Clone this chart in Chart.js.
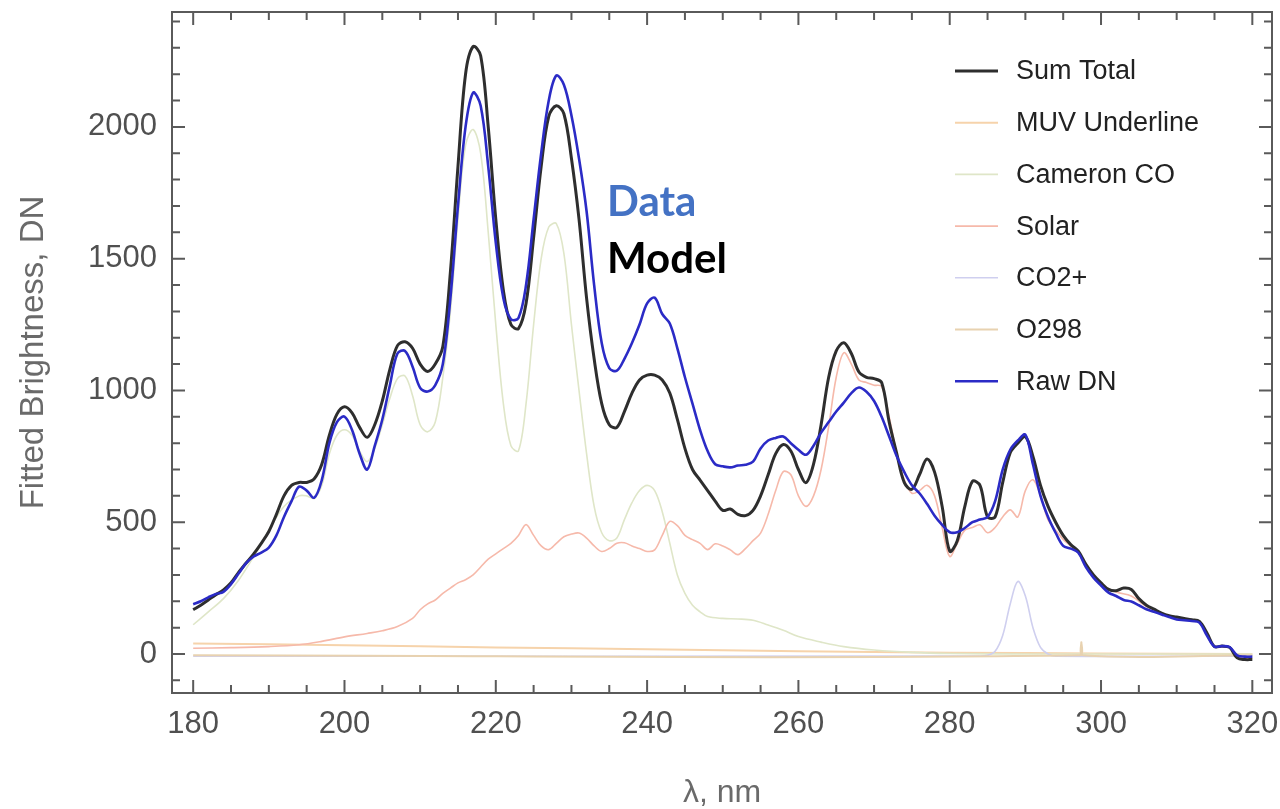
<!DOCTYPE html>
<html>
<head>
<meta charset="utf-8">
<script src="https://cdn.jsdelivr.net/npm/chart.js@4.4.1/dist/chart.umd.min.js"></script>
<style>
  html, body { margin: 0; padding: 0; background: #fff; }
  #wrap { position: relative; width: 1280px; height: 809px; }
</style>
</head>
<body>
<div id="wrap"><canvas id="chart" width="1280" height="809"></canvas></div>
<script>
// wavelength grid (nm) shared by the model total and the raw data
const wavelengths = [
  180, 181, 182, 183, 184, 185, 186, 187, 188, 189, 190, 191, 192, 193, 194, 195, 196, 197, 198, 199,
  200, 201, 202, 203, 204, 205, 206, 207, 208, 209, 210, 211, 212, 213, 214, 215, 216, 217, 218, 219,
  220, 221, 222, 223, 224, 225, 226, 227, 228, 229, 230, 231, 232, 233, 234, 235, 236, 237, 238, 239,
  240, 241, 242, 243, 244, 245, 246, 247, 248, 249, 250, 251, 252, 253, 254, 255, 256, 257, 258, 259,
  260, 261, 262, 263, 264, 265, 266, 267, 268, 269, 270, 271, 272, 273, 274, 275, 276, 277, 278, 279,
  280, 281, 282, 283, 284, 285, 286, 287, 288, 289, 290, 291, 292, 293, 294, 295, 296, 297, 298, 299,
  300, 301, 302, 303, 304, 305, 306, 307, 308, 309, 310, 311, 312, 313, 314, 315, 316, 317, 318, 319,
  320
];

const sumTotal = [
  168, 185, 205, 225, 243, 270, 310, 345, 380, 420, 465, 530, 600, 640, 651, 651, 665, 720, 830, 910,
  938, 915, 860, 822, 870, 960, 1080, 1170, 1185, 1160, 1100, 1072, 1100, 1167, 1450, 1850, 2200, 2305, 2270, 2000,
  1650, 1380, 1250, 1235, 1330, 1580, 1850, 2040, 2080, 2050, 1880, 1650, 1350, 1120, 950, 870, 860, 920, 990, 1040,
  1058, 1058, 1040, 990, 890, 780, 700, 660, 620, 580, 545, 550, 530, 525, 545, 600, 680, 760, 795, 770,
  700, 650, 720, 870, 1050, 1150, 1181, 1140, 1070, 1050, 1045, 1030, 880, 760, 650, 625, 680, 740, 690, 560,
  390, 430, 560, 655, 640, 520, 520, 650, 764, 800, 825, 750, 640, 560, 500, 450, 415, 390, 340, 300,
  270, 245, 240, 250, 245, 210, 185, 170, 155, 145, 140, 135, 130, 124, 80, 28, 30, 25, -15, -21,
  -21
];

const rawDN = [
  189, 200, 215, 228, 236, 265, 305, 345, 370, 385, 404, 450, 520, 580, 635, 620, 593, 660, 800, 880,
  901, 850, 760, 700, 790, 890, 1020, 1140, 1150, 1090, 1010, 996, 1020, 1100, 1350, 1700, 2000, 2130, 2080, 1850,
  1560, 1350, 1270, 1275, 1400, 1650, 1900, 2100, 2195, 2160, 2043, 1880, 1680, 1400, 1180, 1085, 1075, 1120, 1180, 1250,
  1330, 1352, 1290, 1254, 1160, 1050, 950, 850, 770, 720, 712, 708, 715, 718, 730, 780, 810, 820, 825, 800,
  775, 756, 790, 840, 880, 920, 954, 990, 1011, 995, 960, 900, 825, 750, 690, 640, 610, 570, 525, 490,
  462, 462, 478, 500, 510, 520, 580, 700, 775, 810, 832, 720, 600, 520, 460, 410, 400, 384, 330, 290,
  260, 233, 220, 205, 199, 185, 170, 160, 150, 140, 131, 128, 125, 119, 70, 28, 30, 26, -5, -10,
  -10
];

const cameronNm = [
  180, 182, 184, 186, 188, 190, 192, 194, 195, 196, 197, 198, 199, 200, 201, 202, 203, 204, 205, 206,
  207, 208, 209, 210, 211, 212, 213, 214, 215, 216, 217, 218, 219, 220, 221, 222, 223, 224, 225, 226,
  227, 228, 229, 230, 231, 232, 233, 234, 235, 236, 237, 238, 239, 240, 241, 242, 243, 244, 245, 246,
  247, 248, 250, 252, 254, 256, 258, 260, 263, 266, 270, 275, 280, 290, 320
];
const cameronCO = [
  111, 160, 210, 280, 370, 470, 560, 600, 600, 590, 640, 760, 830, 851, 830, 770, 730, 780, 870, 970,
  1045, 1055, 980, 870, 843, 880, 1050, 1300, 1650, 1930, 1990, 1900, 1600, 1250, 950, 790, 771, 950, 1250, 1500,
  1620, 1633, 1520, 1250, 1000, 760, 560, 460, 430, 440, 510, 574, 620, 640, 620, 540, 420, 300, 230, 185,
  160, 142, 135, 133, 128, 110, 90, 66, 45, 28, 15, 6, 2, 0, 0
];

const solarNm = [
  180, 185, 190, 194, 197, 200, 203, 205, 207, 209, 210, 211, 212, 213, 214, 215, 216, 217, 218, 219,
  220, 221, 222, 223, 224, 225, 226, 227, 228, 229, 230, 231, 232, 233, 234, 235, 236, 237, 238, 239,
  240, 241, 242, 243, 244, 245, 246, 247, 248, 249, 250, 251, 252, 253, 254, 255, 256, 257, 258, 259,
  260, 261, 262, 263, 264, 265, 266, 267, 268, 269, 270, 271, 272, 273, 274, 275, 276, 277, 278, 279,
  280, 281, 282, 283, 284, 285, 286, 287, 288, 289, 290, 291, 292, 293, 294, 295, 296, 297, 298, 299,
  300, 302, 304, 306, 308, 310, 312, 313, 314, 315, 317, 318, 320
];
const solar = [
  22, 24, 28, 35, 48, 65, 78, 88, 104, 135, 168, 190, 205, 230, 250, 270, 282, 300, 330, 360,
  380, 400, 420, 450, 491, 450, 410, 396, 420, 445, 455, 459, 440, 410, 389, 400, 420, 422, 410, 400,
  389, 395, 450, 503, 487, 450, 434, 420, 396, 418, 410, 395, 377, 400, 430, 459, 530, 620, 692, 680,
  600, 560, 600, 700, 863, 1050, 1143, 1100, 1040, 1030, 1020, 1015, 900, 760, 660, 610, 620, 640, 600, 480,
  370, 420, 470, 480, 490, 460, 480, 520, 547, 520, 620, 661, 600, 509, 470, 435, 410, 385, 335, 300,
  265, 235, 220, 180, 155, 135, 128, 120, 75, 30, 25, -10, -15
];

const muvNm = [180, 200, 220, 240, 260, 280, 300, 320];
const muvUnderline = [40, 33, 25, 18, 10, 5, 2, 0];

const co2Nm = [180, 284, 285, 286, 287, 288, 289, 290, 291, 292, 293, 294, 320];
const co2Plus = [-8, -8, -5, 10, 70, 190, 275, 220, 100, 25, 0, -8, -8];

const o298Nm = [180, 297.2, 297.4, 297.6, 320];
const o298 = [-5, -5, 45, -5, -5];

const xTickLabels = [180, 200, 220, 240, 260, 280, 300, 320];
const yTickLabels = [0, 500, 1000, 1500, 2000];

const FONT = "Arial, 'Liberation Sans', Helvetica, sans-serif";

function pts(xs, ys) {
  return xs.map((v, i) => ({ x: v, y: ys[i] }));
}

const series = [
  { label: "Sum Total", data: pts(wavelengths, sumTotal), color: "#2e2e2e", width: 3, order: 1 },
  { label: "MUV Underline", data: pts(muvNm, muvUnderline), color: "#f6d3ab", width: 2, order: 6 },
  { label: "Cameron CO", data: pts(cameronNm, cameronCO), color: "#dfe6c8", width: 1.6, order: 5 },
  { label: "Solar", data: pts(solarNm, solar), color: "#f6b9aa", width: 1.6, order: 4 },
  { label: "CO2+", data: pts(co2Nm, co2Plus), color: "#cfcfef", width: 1.6, order: 3 },
  { label: "O298", data: pts(o298Nm, o298), color: "#e8d2b0", width: 2, order: 2 },
  { label: "Raw DN", data: pts(wavelengths, rawDN), color: "#2b2bc6", width: 2.6, order: 0 },
];

// frame with inward ticks on all four sides, like the original plot
const frameTicks = {
  id: "frameTicks",
  afterDraw(chart) {
    const { ctx, chartArea: a, scales: { x, y } } = chart;
    ctx.save();
    ctx.strokeStyle = "#5a5a5a";
    ctx.lineWidth = 2;
    ctx.strokeRect(a.left, a.top, a.right - a.left, a.bottom - a.top);
    ctx.beginPath();
    for (let v = 180; v <= 320; v += 5) {
      const px = x.getPixelForValue(v);
      const len = v % 20 === 0 ? 13 : 8;
      ctx.moveTo(px, a.bottom); ctx.lineTo(px, a.bottom - len);
      ctx.moveTo(px, a.top); ctx.lineTo(px, a.top + len);
    }
    for (let v = -100; v <= 2400; v += 100) {
      const py = y.getPixelForValue(v);
      const len = v % 500 === 0 ? 13 : 8;
      ctx.moveTo(a.left, py); ctx.lineTo(a.left + len, py);
      ctx.moveTo(a.right, py); ctx.lineTo(a.right - len, py);
    }
    ctx.stroke();
    ctx.restore();
  }
};

// legend at the right, and the Data / Model note
const sideLegend = {
  id: "sideLegend",
  afterDraw(chart) {
    const { ctx } = chart;
    ctx.save();
    ctx.font = "27px " + FONT;
    ctx.textBaseline = "middle";
    chart.data.datasets.forEach((ds, i) => {
      const yy = 71 + i * 51.7;
      ctx.strokeStyle = ds.borderColor;
      ctx.lineWidth = ds.borderWidth;
      ctx.beginPath();
      ctx.moveTo(955, yy);
      ctx.lineTo(998, yy);
      ctx.stroke();
      ctx.fillStyle = "#222";
      ctx.fillText(ds.label, 1016, yy + 1);
    });
    ctx.font = "bold 42px Lato, 'Open Sans', sans-serif";
    ctx.textBaseline = "alphabetic";
    ctx.fillStyle = "#4472c4";
    ctx.fillText("Data", 607, 216);
    ctx.fillStyle = "#000";
    ctx.fillText("Model", 607, 273);
    ctx.restore();
  }
};

new Chart(document.getElementById("chart"), {
  type: "line",
  data: {
    datasets: series.map(s => ({
      label: s.label,
      data: s.data,
      borderColor: s.color,
      borderWidth: s.width,
      pointRadius: 0,
      tension: 0.35,
      fill: false,
      order: s.order,
    })),
  },
  options: {
    responsive: false,
    animation: false,
    layout: { padding: { top: 12, right: 8, left: 0, bottom: 0 } },
    plugins: { legend: { display: false }, tooltip: { enabled: false } },
    scales: {
      x: {
        type: "linear",
        min: 177.2,
        max: 322.6,
        afterBuildTicks: (scale) => { scale.ticks = xTickLabels.map(v => ({ value: v })); },
        afterFit: (scale) => { scale.height = 116; scale.paddingLeft = 0; scale.paddingRight = 0; },
        grid: { display: false, drawTicks: false },
        border: { display: false },
        ticks: {
          color: "#505050",
          padding: 13,
          maxRotation: 0,
          callback: (v) => String(v),
          font: { family: FONT, size: 31 },
        },
        title: {
          display: true,
          text: "λ, nm",
          color: "#6a6a6a",
          padding: 0,
          font: { family: FONT, size: 32, lineHeight: 1 },
        },
      },
      y: {
        type: "linear",
        min: -148,
        max: 2436,
        afterBuildTicks: (scale) => { scale.ticks = yTickLabels.map(v => ({ value: v })); },
        afterFit: (scale) => { scale.width = 172; scale.paddingTop = 0; scale.paddingBottom = 0; },
        grid: { display: false, drawTicks: false },
        border: { display: false },
        ticks: {
          color: "#505050",
          padding: 15,
          callback: (v) => String(v),
          font: { family: FONT, size: 31 },
        },
        title: {
          display: true,
          text: "Fitted Brightness, DN",
          color: "#6a6a6a",
          padding: { top: 14, bottom: 0 },
          font: { family: FONT, size: 33, lineHeight: 1.2 },
        },
      },
    },
  },
  plugins: [frameTicks, sideLegend],
});
</script>
</body>
</html>
